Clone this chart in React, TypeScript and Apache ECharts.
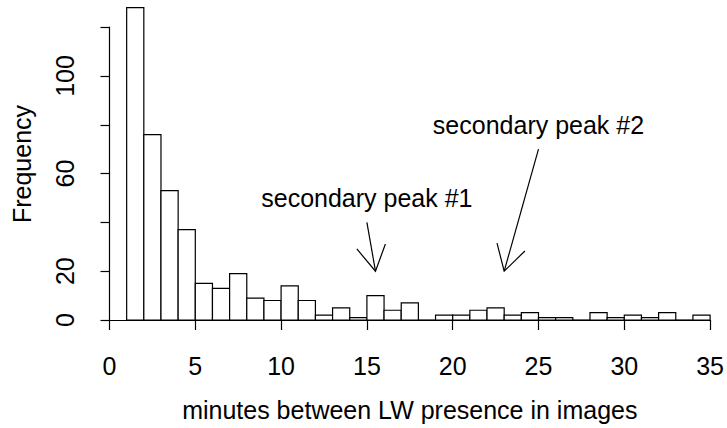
import React, { useEffect, useRef } from "react";
import * as echarts from "echarts";

// Histogram of gaps (minutes) between LW sightings, one-minute bins.
const binLefts = [1, 2, 3, 4, 5, 6, 7, 8, 9, 10, 11, 12, 13, 14, 15, 16, 17, 18, 19, 20, 21, 22, 23, 24, 25, 26, 27, 28, 29, 30, 31, 32, 33, 34];
const binRights = [2, 3, 4, 5, 6, 7, 8, 9, 10, 11, 12, 13, 14, 15, 16, 17, 18, 19, 20, 21, 22, 23, 24, 25, 26, 27, 28, 29, 30, 31, 32, 33, 34, 35];
const counts = [128, 76, 53, 37, 15, 13, 19, 9, 8, 14, 8, 2, 5, 1, 10, 4, 7, 0, 2, 2, 4, 5, 2, 3, 1, 1, 0, 3, 1, 2, 1, 3, 0, 2];

// Y tick labels that are actually printed (others are skipped to avoid overlap)
const yLabelsShown = [0, 20, 60, 100];

// Annotations: text position and arrow from -> to, in data units
const noteTexts = ["secondary peak #1", "secondary peak #2"];
const noteX = [15, 25];
const noteY = [50, 80];
const arrowFromX = [15, 25];
const arrowFromY = [40, 70];
const arrowToX = [15.5, 23];
const arrowToY = [20, 20];

const FONT = '"Liberation Sans", Arial, Helvetica, sans-serif';
const FS = 25;

export default function App() {
  const ref = useRef<HTMLDivElement>(null);

  useEffect(() => {
    document.body.style.margin = "0";
    const chart = echarts.init(ref.current!, null, { renderer: "svg" });

    const histData = binLefts.map((l, i) => [l, binRights[i], counts[i]]);
    const noteData = noteTexts.map((_, i) => [
      noteX[i], noteY[i], arrowFromX[i], arrowFromY[i], arrowToX[i], arrowToY[i],
    ]);

    chart.setOption({
      animation: false,
      backgroundColor: "#ffffff",
      grid: { left: 109.5, right: 15.5, top: 27.2, bottom: 108 },
      xAxis: {
        type: "value",
        min: 0,
        max: 35,
        interval: 5,
        offset: 13,
        name: "minutes between LW presence in images",
        nameLocation: "middle",
        nameGap: 64,
        nameTextStyle: { fontFamily: FONT, fontSize: FS, color: "#000" },
        axisLine: { show: true, lineStyle: { color: "#000", width: 1.2 } },
        axisTick: { show: true, length: 10, lineStyle: { color: "#000", width: 1.2 } },
        axisLabel: { fontFamily: FONT, fontSize: FS, color: "#000", margin: 20 },
        splitLine: { show: false },
      },
      yAxis: {
        type: "value",
        min: 0,
        max: 120,
        interval: 20,
        offset: 9.5,
        axisLine: { show: true, lineStyle: { color: "#000", width: 1.2 } },
        axisTick: { show: true, length: 9, lineStyle: { color: "#000", width: 1.2 } },
        axisLabel: {
          fontFamily: FONT,
          fontSize: FS,
          color: "#000",
          rotate: 90,
          margin: 23,
          formatter: (v: number) => (yLabelsShown.includes(v) ? String(v) : ""),
        },
        splitLine: { show: false },
      },
      graphic: [
        {
          type: "text",
          x: 22,
          y: 164,
          rotation: Math.PI / 2,
          style: {
            text: "Frequency",
            font: `${FS}px ${FONT}`,
            fill: "#000",
            align: "center",
            verticalAlign: "middle",
          },
        },
      ],
      series: [
        {
          type: "custom",
          clip: false,
          data: histData,
          renderItem: (params: any, api: any) => {
            const x0 = api.value(0);
            const x1 = api.value(1);
            const c = api.value(2);
            const pTop = api.coord([x0, c]);
            const pBot = api.coord([x1, 0]);
            if (c === 0) {
              return {
                type: "line",
                shape: { x1: pTop[0], y1: pBot[1], x2: pBot[0], y2: pBot[1] },
                style: { stroke: "#000", lineWidth: 1.2 },
              };
            }
            return {
              type: "rect",
              shape: {
                x: pTop[0],
                y: pTop[1],
                width: pBot[0] - pTop[0],
                height: pBot[1] - pTop[1],
              },
              style: { fill: "#ffffff", stroke: "#000", lineWidth: 1.2 },
            };
          },
        },
        {
          type: "custom",
          clip: false,
          data: noteData,
          renderItem: (params: any, api: any) => {
            const t = api.coord([api.value(0), api.value(1)]);
            const a = api.coord([api.value(2), api.value(3)]);
            const b = api.coord([api.value(4), api.value(5)]);
            const ang = Math.atan2(b[1] - a[1], b[0] - a[0]);
            const len = 29;
            const spread = Math.PI / 6;
            const w1 = [b[0] - len * Math.cos(ang - spread), b[1] - len * Math.sin(ang - spread)];
            const w2 = [b[0] - len * Math.cos(ang + spread), b[1] - len * Math.sin(ang + spread)];
            return {
              type: "group",
              children: [
                {
                  type: "text",
                  style: {
                    text: noteTexts[params.dataIndex],
                    x: t[0],
                    y: t[1],
                    font: `${FS}px ${FONT}`,
                    fill: "#000",
                    align: "center",
                    verticalAlign: "middle",
                  },
                },
                {
                  type: "line",
                  shape: { x1: a[0], y1: a[1], x2: b[0], y2: b[1] },
                  style: { stroke: "#000", lineWidth: 1.2 },
                },
                {
                  type: "polyline",
                  shape: { points: [w1, b, w2] },
                  style: { stroke: "#000", lineWidth: 1.2, fill: null },
                },
              ],
            };
          },
        },
      ],
    });

    return () => chart.dispose();
  }, []);

  return <div ref={ref} style={{ width: 727, height: 428 }} />;
}
